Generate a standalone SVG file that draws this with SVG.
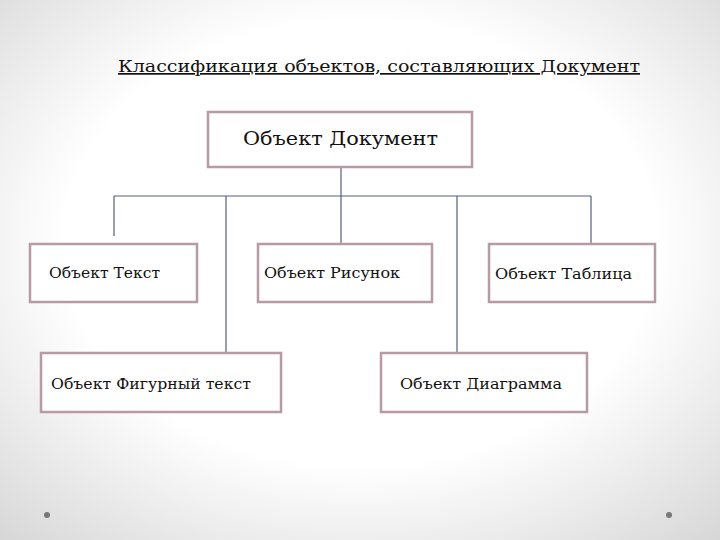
<svg xmlns="http://www.w3.org/2000/svg" width="720" height="540" viewBox="0 0 720 540">
<defs>
<radialGradient id="bg" cx="0.5" cy="0.45" r="0.75">
<stop offset="0.55" stop-color="#ffffff"/><stop offset="1" stop-color="#d6d6d6"/>
</radialGradient>
<style>
.box{fill:#ffffff;stroke:#b89ba2;stroke-width:2.5}
.t{font-family:"DejaVu Serif","Liberation Serif",serif;font-size:15px;fill:#111}
.c{stroke:#55607f;stroke-width:1.2;fill:none}
</style>
</defs>
<rect width="720" height="540" fill="url(#bg)"/>
<circle cx="47" cy="515" r="3" fill="#777"/>
<circle cx="669" cy="515" r="3" fill="#777"/>
<text x="118" y="72" textLength="522" lengthAdjust="spacingAndGlyphs" style="font-family:'DejaVu Serif','Liberation Serif',serif;font-size:17px;fill:#111;text-decoration:underline">Классификация объектов, составляющих Документ</text>
<g id="connectors">
<path class="c" d="M341 167V196M114 196H591M114 196V236M226 196V353M341 196V244M457 196V353M591 196V244"/>
</g>
<g id="doc"><rect class="box" x="208" y="112" width="264" height="55"/><text class="t" x="243" y="145" textLength="195" lengthAdjust="spacingAndGlyphs" style="font-size:18px">Объект Документ</text></g>
<g id="text"><rect class="box" x="30" y="244" width="167" height="58"/><text class="t" x="49" y="278" textLength="111" lengthAdjust="spacingAndGlyphs">Объект Текст</text></g>
<g id="pic"><rect class="box" x="258" y="244" width="174" height="58"/><text class="t" x="264" y="278" textLength="136" lengthAdjust="spacingAndGlyphs">Объект Рисунок</text></g>
<g id="table"><rect class="box" x="489" y="244" width="166" height="58"/><text class="t" x="495" y="279" textLength="137" lengthAdjust="spacingAndGlyphs">Объект Таблица</text></g>
<g id="figtext"><rect class="box" x="41" y="353" width="240" height="59"/><text class="t" x="51" y="389" textLength="200" lengthAdjust="spacingAndGlyphs">Объект Фигурный текст</text></g>
<g id="chart"><rect class="box" x="381" y="353" width="206" height="59"/><text class="t" x="400" y="389" textLength="162" lengthAdjust="spacingAndGlyphs">Объект Диаграмма</text></g>
</svg>
